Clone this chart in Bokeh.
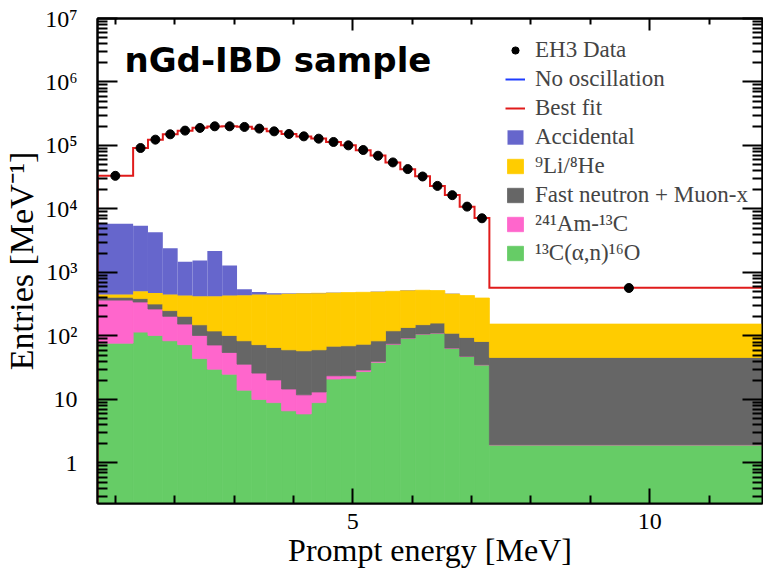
import math
from bokeh.plotting import figure
from bokeh.models import (Range1d, FixedTicker, LinearAxis, LogAxis, Label,
                          Legend, LegendItem, ColumnDataSource)
from bokeh.embed import file_html
from bokeh.resources import INLINE

# ---------------- data ----------------
edges = [0.7, 1.3, 1.55, 1.8, 2.05, 2.3, 2.55, 2.8, 3.05, 3.3, 3.55, 3.8, 4.05,
         4.3, 4.55, 4.8, 5.05, 5.3, 5.55, 5.8, 6.05, 6.3, 6.55, 6.8, 7.05, 7.3, 12.0]

eh3_data = [33300, 91300, 123600, 150000, 171500, 189000, 200500, 200500,
            196000, 184500, 167000, 152000, 139300, 128000, 113600, 100500,
            84900, 69000, 54100, 42500, 32500, 23100, 16500, 10900, 7140, 570]

best_fit = [33500, 91000, 123000, 150500, 171000, 189500, 200000, 201000,
            196500, 184000, 167500, 151500, 139000, 128500, 113000, 100800,
            84500, 69300, 54000, 42300, 32700, 23000, 16600, 10800, 7200, 575]

c13_alpha_n = [77, 115, 102, 84, 73, 44, 30, 25, 14, 10, 8.9, 6.6, 5.9, 8.9,
               21, 21.5, 27.5, 38.5, 74, 92, 107, 111, 64, 47.5, 35, 1.9]
am241_c13 = [290, 228, 164, 120, 81, 58, 42, 30, 22, 16, 11.4, 8.0, 5.9, 4.2,
             2.6, 2.1, 1.6, 1.3, 1.1, 0.9, 0.7, 0.6, 0.5, 0.4, 0.3, 0.02]
fast_neutron = [40, 45, 53, 47, 50, 48, 48, 47, 48, 47, 45.5, 46, 46.6, 47.5,
                45.5, 46.4, 45, 44, 45.5, 43, 43, 48, 46, 47, 46.5, 44]
li9_he8 = [42, 118, 157, 198, 229, 271, 301, 331, 353, 376, 383, 398, 407, 410,
           407, 412, 413, 410, 385, 382, 374, 359, 348, 338, 314, 108]
accidental = [5420, 4950, 3810, 1950, 1040, 1120, 1750, 856, 107, 45, 20, 10,
              6, 4, 3, 3, 3, 2.5, 2, 2, 2, 2, 2, 2, 1.5, 0.3]

x_ticks = [5, 10]
x_minor = [1, 2, 3, 4, 6, 7, 8, 9, 11, 12]
y_ticks = [1, 10, 100, 1000, 10000, 100000, 1000000, 10000000]
y_tick_labels = ["1", "10", "10²", "10³", "10⁴", "10⁵", "10⁶", "10⁷"]

legend_labels = ["EH3 Data", "No oscillation", "Best fit", "Accidental",
                 "⁹Li/⁸He", "Fast neutron + Muon-x", "²⁴¹Am-¹³C", "¹³C(α,n)¹⁶O"]

X0, X1 = 0.7, 11.9
Y0, Y1 = 0.23, 1e7
SERIF = "Liberation Serif"

# ---------------- figure ----------------
p = figure(width=763, height=570, x_range=Range1d(X0, X1), y_range=Range1d(Y0, Y1),
           y_axis_type="log", output_backend="svg", toolbar_location=None,
           min_border_left=97, min_border_right=1, min_border_top=18,
           min_border_bottom=66)
p.xgrid.visible = False
p.ygrid.visible = False
p.outline_line_color = "black"
p.outline_line_width = 2
p.background_fill_color = "white"

left = edges[:-1]
right = edges[1:]
centers = [(a + b) / 2 for a, b in zip(left, right)]

baseline = Y0 / 10.0
layers = [(c13_alpha_n, "#66cc66"), (am241_c13, "#ff66cc"),
          (fast_neutron, "#666666"), (li9_he8, "#ffcc00"), (accidental, "#6666cc")]
bottom = [baseline] * len(left)
stack_renderers = []
for k, (vals, col) in enumerate(layers):
    top = [b + v for b, v in zip(bottom, vals)]
    src = ColumnDataSource(dict(left=left, right=right, bottom=bottom, top=top))
    last = k == len(layers) - 1
    r = p.quad(left="left", right="right", bottom="bottom", top="top", source=src,
               fill_color=col, line_color=None if last else col, line_width=0.8)
    stack_renderers.append(r)
    bottom = top

# best fit step line
xs = [edges[0]]
ys = [baseline]
for i, v in enumerate(best_fit):
    xs += [edges[i], edges[i + 1]]
    ys += [v, v]
r_fit = p.line(xs, ys, line_color="#e01b1b", line_width=2, line_join="miter")

# no-oscillation curve is not visible in the plot; only its legend entry
r_noosc = p.line(x=[centers[0]], y=[best_fit[0]], line_color="#1e3cff", line_width=2)

r_data = p.scatter(centers, eh3_data, size=9, color="black")

# ---------------- axes ----------------
def style_axis(ax, major_in, minor_in):
    ax.axis_line_width = 2
    ax.axis_line_color = "black"
    ax.major_tick_in = major_in
    ax.major_tick_out = 0
    ax.minor_tick_in = minor_in
    ax.minor_tick_out = 0
    ax.major_tick_line_width = 2
    ax.minor_tick_line_width = 2
    ax.major_label_text_font = SERIF
    ax.major_label_text_color = "black"

y_minor = [m * 10.0 ** e for e in range(-1, 7) for m in range(2, 10)]

xa = p.xaxis[0]
xa.ticker = FixedTicker(ticks=x_ticks, minor_ticks=x_minor)
style_axis(xa, 15, 8)
xa.major_label_text_font_size = "24px"
xa.major_label_standoff = 10
xa.axis_label = "Prompt energy [MeV]"
xa.axis_label_text_font = SERIF
xa.axis_label_text_font_style = "normal"
xa.axis_label_text_font_size = "32px"
xa.axis_label_standoff = 0
xa.axis_label_text_color = "black"

ya = p.yaxis[0]
ya.ticker = FixedTicker(ticks=y_ticks, minor_ticks=y_minor)
style_axis(ya, 20, 10)
ya.major_label_text_font_size = "24px"
ya.major_label_standoff = 20
ya.major_label_overrides = {t: s for t, s in zip(y_ticks, y_tick_labels)}
ya.axis_label = "Entries [MeV⁻¹]"
ya.axis_label_text_font = SERIF
ya.axis_label_text_font_style = "normal"
ya.axis_label_text_font_size = "34px"
ya.axis_label_standoff = 2
ya.axis_label_text_color = "black"

top_ax = LinearAxis(ticker=FixedTicker(ticks=x_ticks, minor_ticks=x_minor))
style_axis(top_ax, 12, 6)
top_ax.major_label_text_font_size = "0px"
top_ax.major_label_standoff = 0
top_ax.major_label_overrides = {t: "" for t in x_ticks}
p.add_layout(top_ax, "above")

right_ax = LogAxis(ticker=FixedTicker(ticks=y_ticks, minor_ticks=y_minor))
style_axis(right_ax, 20, 10)
right_ax.major_label_text_font_size = "0px"
right_ax.major_label_standoff = 0
right_ax.major_label_overrides = {t: "" for t in y_ticks}
p.add_layout(right_ax, "right")

# ---------------- title inside the frame ----------------
p.add_layout(Label(x=27, y=444, x_units="screen", y_units="screen",
                   text="nGd-IBD sample", text_font="DejaVu Sans",
                   text_font_style="bold", text_font_size="34px",
                   text_baseline="alphabetic", text_color="black"))

# ---------------- legend ----------------
rends = [r_data, r_noosc, r_fit] + stack_renderers[::-1]
items = [LegendItem(label=l, renderers=[r]) for l, r in zip(legend_labels, rends)]
legend = Legend(items=items, location=(408, 237), padding=0, margin=0, spacing=3,
                glyph_width=20, glyph_height=18, label_height=20, label_standoff=10,
                label_text_font=SERIF, label_text_font_size="23px",
                background_fill_alpha=0, border_line_alpha=0)
p.add_layout(legend)

open("out.html", "w").write(file_html(p, INLINE))
